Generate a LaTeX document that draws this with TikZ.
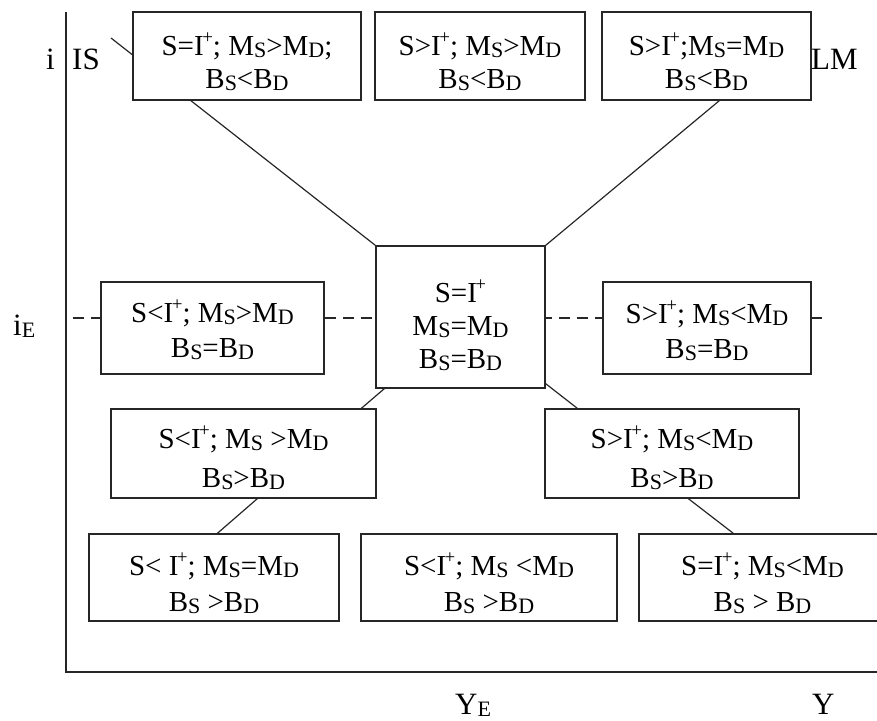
\documentclass[tikz,border=0pt]{standalone}
\usepackage{fontspec}
\setmainfont{Liberation Serif}
\usetikzlibrary{backgrounds}
\newcommand\sbs[1]{\raisebox{-2.5pt}{\fontsize{22}{22}\selectfont #1}}
\newcommand\Ip{I\kern-1.5pt\raisebox{12pt}{\fontsize{19}{19}\selectfont +}}
\newcommand\tl[2][34pt]{\vtop{\baselineskip=#1\lineskiplimit=-50pt\halign{\hfil##\hfil\cr#2\crcr}}}
\begin{document}
\begin{tikzpicture}[x=1pt,y=-1pt,
  box/.style={draw=black!85,line width=1.3pt,fill=white,inner sep=0pt,font=\fontsize{29}{34}\selectfont},
  lbl/.style={anchor=base west,inner sep=0pt,font=\fontsize{31}{31}\selectfont},
  conn/.style={line width=1.2pt,draw=black!85},
  axis/.style={line width=1.4pt,draw=black!85},
  eqline/.style={line width=1.2pt,draw=black!85,dash pattern=on 11pt off 7pt}]
\useasboundingbox (0,0) rectangle (877,720);
\clip (0,0) rectangle (877,720);
% axes
\coordinate (ytop) at (66,12);
\coordinate (orig) at (66,672);
\coordinate (xend) at (877,672);
\draw[axis] (ytop) -- (orig) -- (xend);
% labels
\node[lbl] (li) at (46,69) {i};
\node[lbl] (lis) at (72,69) {IS};
\node[lbl] (llm) at (811,69) {LM};
\node[lbl] (lie) at (13,335) {i\sbs{E}};
\node[lbl] (lye) at (455,714) {Y\sbs{E}};
\node[lbl] (ly) at (812,714) {Y};
% boxes
\node[box,minimum width=228pt,minimum height=88pt,text height=43pt,text depth=45pt] (B1) at (247,56)
  {\tl[33pt]{S=\Ip; M\sbs{S}>M\sbs{D};\cr B\sbs{S}<B\sbs{D}}};
\node[box,minimum width=210pt,minimum height=88pt,text height=43pt,text depth=45pt] (B2) at (480,56)
  {\tl[33pt]{S>\Ip; M\sbs{S}>M\sbs{D}\cr B\sbs{S}<B\sbs{D}}};
\node[box,minimum width=209pt,minimum height=88pt,text height=43pt,text depth=45pt] (B3) at (706.5,56)
  {\tl[33pt]{S>\Ip;M\sbs{S}=M\sbs{D}\cr B\sbs{S}<B\sbs{D}}};
\node[box,minimum width=223pt,minimum height=92pt,text height=40pt,text depth=52pt] (LMd) at (212.5,328)
  {\tl[35pt]{S<\Ip; M\sbs{S}>M\sbs{D}\cr B\sbs{S}=B\sbs{D}}};
\node[box,minimum width=169pt,minimum height=142pt,text height=56pt,text depth=86pt] (C) at (460.5,317)
  {\tl[33pt]{S=\Ip\cr M\sbs{S}=M\sbs{D}\cr B\sbs{S}=B\sbs{D}}};
\node[box,minimum width=208pt,minimum height=92pt,text height=41pt,text depth=51pt] (RMd) at (707,328)
  {\tl[35pt]{S>\Ip; M\sbs{S}<M\sbs{D}\cr B\sbs{S}=B\sbs{D}}};
\node[box,minimum width=265pt,minimum height=89pt,text height=39pt,text depth=50pt] (R3L) at (243.5,453.5)
  {\tl[39pt]{S<\Ip; M\sbs{S} >M\sbs{D}\cr B\sbs{S}>B\sbs{D}}};
\node[box,minimum width=254pt,minimum height=89pt,text height=39pt,text depth=50pt] (R3R) at (672,453.5)
  {\tl[39pt]{S>\Ip; M\sbs{S}<M\sbs{D}\cr B\sbs{S}>B\sbs{D}}};
\node[box,minimum width=250pt,minimum height=87pt,text height=41pt,text depth=46pt] (R4L) at (214,577.5)
  {\tl[36pt]{S< \Ip; M\sbs{S}=M\sbs{D}\cr B\sbs{S} >B\sbs{D}}};
\node[box,minimum width=256pt,minimum height=87pt,text height=41pt,text depth=46pt] (R4M) at (489,577.5)
  {\tl[36pt]{S<\Ip; M\sbs{S} <M\sbs{D}\cr B\sbs{S} >B\sbs{D}}};
\node[box,minimum width=247pt,minimum height=87pt,text height=41pt,text depth=46pt] (R4R) at (762.5,577.5)
  {\tl[36pt]{S=\Ip; M\sbs{S}<M\sbs{D}\cr B\sbs{S} > B\sbs{D}}};
% lines behind the boxes
\begin{scope}[on background layer]
  \coordinate (eqL) at (73,318);
  \coordinate (eqR) at (829,318);
  \draw[eqline] (eqL) -- (eqR);
  \coordinate (isstart) at (111,38);
  \draw[conn] (isstart) -- (C.north west);
  \draw[conn] ([xshift=118pt]B3.south west) -- (C.north east);
  \draw[conn] ([xshift=9pt]C.south west) -- ([xshift=251pt]R3L.north west);
  \draw[conn] ([yshift=5pt]C.south east) -- ([xshift=33pt]R3R.north west);
  \draw[conn] ([xshift=147pt]R3L.south west) -- ([xshift=129pt]R4L.north west);
  \draw[conn] ([xshift=144pt]R3R.south west) -- ([xshift=95pt]R4R.north west);
\end{scope}
\end{tikzpicture}
\end{document}
